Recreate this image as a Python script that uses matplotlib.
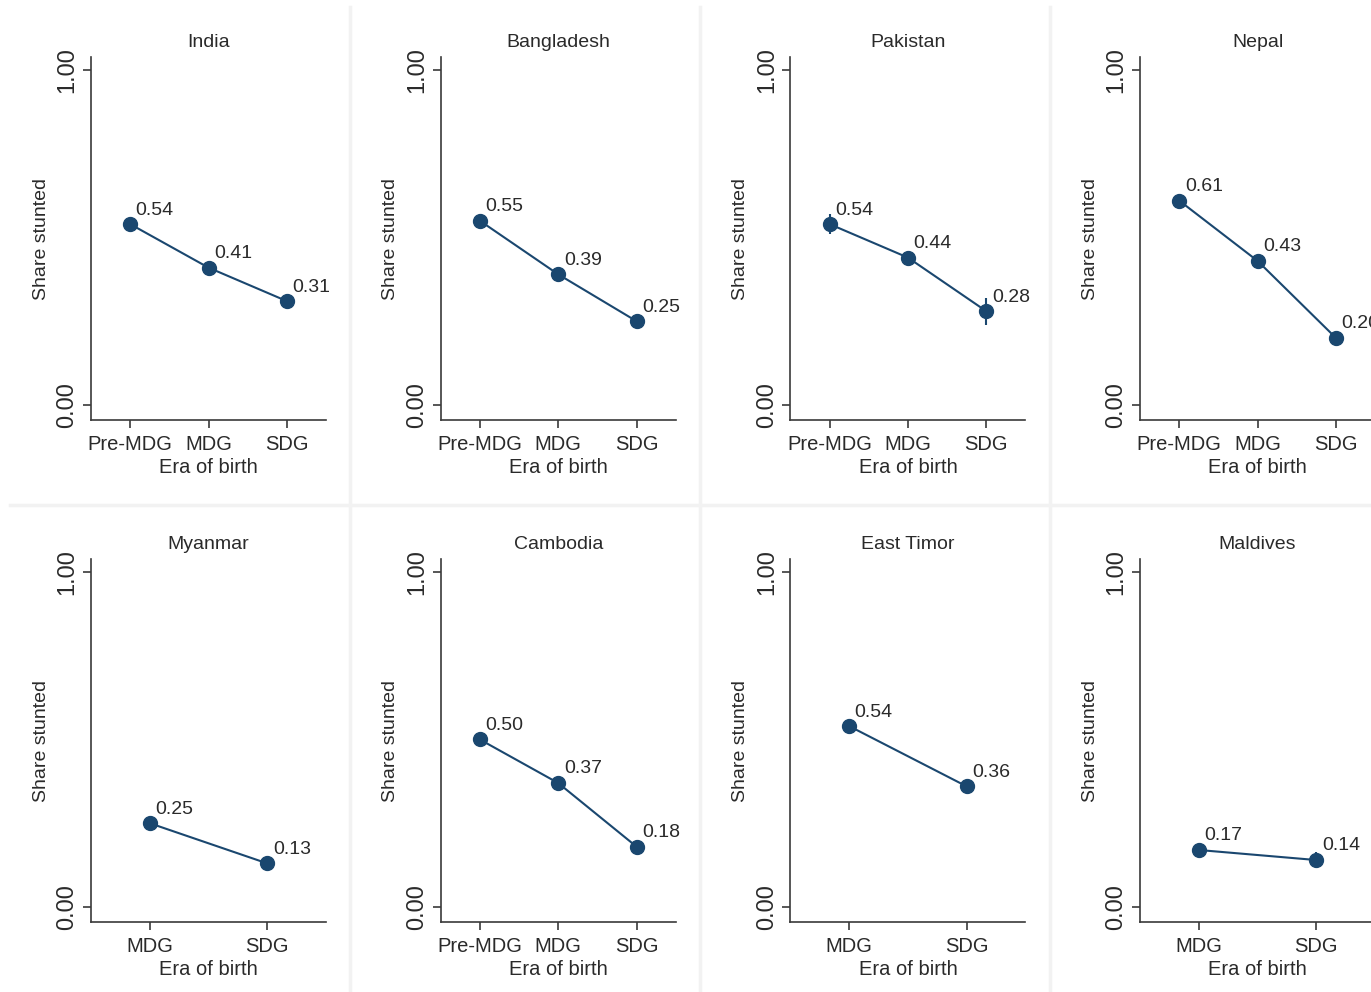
import matplotlib
matplotlib.use("Agg")
import matplotlib.pyplot as plt
from matplotlib.lines import Line2D

plt.rcParams['font.family'] = ['Liberation Sans', 'DejaVu Sans']

countries = ["India", "Bangladesh", "Pakistan", "Nepal",
             "Myanmar", "Cambodia", "East Timor", "Maldives"]
eras3 = ["Pre-MDG", "MDG", "SDG"]
eras2 = ["MDG", "SDG"]

india = [0.54, 0.41, 0.31]
bangladesh = [0.55, 0.39, 0.25]
pakistan = [0.54, 0.44, 0.28]
nepal = [0.61, 0.43, 0.20]
myanmar = [0.25, 0.13]
cambodia = [0.50, 0.37, 0.18]
east_timor = [0.54, 0.36]
maldives = [0.17, 0.14]

india_ci = [0.01, 0.01, 0.01]
bangladesh_ci = [0.01, 0.01, 0.01]
pakistan_ci = [0.03, 0.02, 0.04]
nepal_ci = [0.01, 0.01, 0.01]
myanmar_ci = [0.01, 0.01]
cambodia_ci = [0.02, 0.01, 0.012]
east_timor_ci = [0.01, 0.02]
maldives_ci = [0.01, 0.025]

values = [india, bangladesh, pakistan, nepal, myanmar, cambodia, east_timor, maldives]
cis = [india_ci, bangladesh_ci, pakistan_ci, nepal_ci, myanmar_ci, cambodia_ci, east_timor_ci, maldives_ci]

W, H = 1371, 992
fig = plt.figure(figsize=(W / 100, H / 100), dpi=100)
fig.patch.set_facecolor("white")

navy = "#1a476f"
txt = "#2a2a2a"
spine_c = "#3a3a3a"

# panel separators
sep_c = "#f2f2f2"
for x in [350, 700, 1050]:
    fig.add_artist(Line2D([x / W, x / W], [1 - 7 / H, 0], color=sep_c, lw=2.5, transform=fig.transFigure))
fig.add_artist(Line2D([10 / W, 1], [1 - 505 / H, 1 - 505 / H], color=sep_c, lw=2.5, transform=fig.transFigure))

col_off = 349.7
row_off = 502
ax_left, ax_right, ax_top, ax_bot = 91, 326, 57, 420

for i, (name, vals, ci) in enumerate(zip(countries, values, cis)):
    r, c = divmod(i, 4)
    l = ax_left + c * col_off
    t = ax_top + r * row_off
    b = ax_bot + r * row_off
    ax = fig.add_axes([l / W, 1 - b / H, (ax_right - ax_left) / W, (b - t) / H])
    labels = eras3 if len(vals) == 3 else eras2
    xs = list(range(1, len(vals) + 1))
    ax.errorbar(xs, vals, yerr=ci, color=navy, lw=1.5, marker='o', ms=10,
                elinewidth=1.5, capsize=0, zorder=3)
    for x, v in zip(xs, vals):
        ax.annotate(f"{v:.2f}", (x, v), xytext=(4, 4), textcoords="offset points",
                    ha="left", va="bottom", fontsize=14, color=txt)
    ax.set_xlim(0.5, len(vals) + 0.5)
    ax.set_ylim(-0.045, 1.039)
    ax.set_xticks(xs)
    ax.set_xticklabels(labels, fontsize=14.5, color=txt)
    ax.set_yticks([0, 1])
    ax.set_yticklabels(["0.00", "1.00"], fontsize=17, color=txt, rotation=90, va="center")
    ax.tick_params(axis="x", direction="out", length=6, width=1.2, color=spine_c, pad=4.5)
    ax.tick_params(axis="y", direction="out", length=6, width=1.2, color=spine_c, pad=3)
    for s in ["top", "right"]:
        ax.spines[s].set_visible(False)
    for s in ["left", "bottom"]:
        ax.spines[s].set_color(spine_c)
        ax.spines[s].set_linewidth(1.2)
    ax.set_xlabel("Era of birth", fontsize=14.5, color=txt, labelpad=3)
    ax.set_ylabel("Share stunted", fontsize=14, color=txt, labelpad=5)
    ax.set_title(name, fontsize=14, color=txt, pad=7)
    ax.set_facecolor("none")

fig.savefig("out.png", dpi=100, facecolor="white")
